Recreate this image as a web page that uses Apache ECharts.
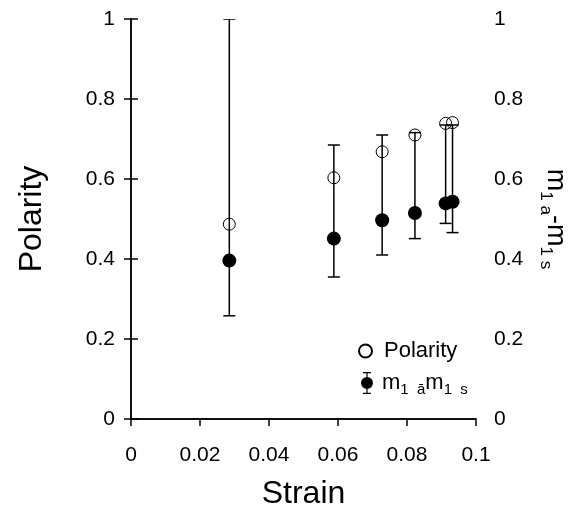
<!DOCTYPE html>
<html>
<head>
<meta charset="utf-8">
<script src="https://cdn.jsdelivr.net/npm/echarts@6/dist/echarts.min.js"></script>
<style>
  html, body { margin: 0; padding: 0; background: #fff; }
  #chart { width: 583px; height: 507px; }
</style>
</head>
<body>
<div id="chart"></div>
<script>
// strain (x) with polarity and m1a-m1s readings
var strain = [0.0285, 0.0588, 0.0728, 0.0823, 0.0912, 0.0932]
var polarity = [0.487, 0.603, 0.668, 0.710, 0.739, 0.741]
var mDiff = [0.396, 0.451, 0.497, 0.515, 0.539, 0.543]
var errLow = [0.258, 0.355, 0.410, 0.451, 0.489, 0.466]
var errHigh = [1.0, 0.685, 0.710, 0.716, 0.735, 0.735]
var xTicks = [0, 0.02, 0.04, 0.06, 0.08, 0.1]
var yTicks = [0, 0.2, 0.4, 0.6, 0.8, 1]

var font = 'Liberation Sans'
var myChart = echarts.init(document.getElementById('chart'))

var subRich = {
  t: { fontFamily: font, fontSize: 22, color: '#000', lineHeight: 28, verticalAlign: 'middle' },
  s: { fontFamily: font, fontSize: 15, color: '#000', lineHeight: 28, verticalAlign: 'bottom' }
}
var bigRich = {
  t: { fontFamily: font, fontSize: 27, color: '#000', lineHeight: 36, verticalAlign: 'middle' },
  s: { fontFamily: font, fontSize: 17, color: '#000', lineHeight: 36, verticalAlign: 'bottom' }
}

var errIcon = 'path://M5.4,0 L6.6,0 L6.6,5 L5.4,5 Z M5.4,17 L6.6,17 L6.6,22 L5.4,22 Z ' +
  'M2,0 L10,0 L10,1.2 L2,1.2 Z M2,20.8 L10,20.8 L10,22 L2,22 Z ' +
  'M0,11 A6,6 0 1,1 12,11 A6,6 0 1,1 0,11 Z'

var option = {
  animation: false,
  backgroundColor: '#fff',
  grid: { left: 131, right: 107, top: 19, bottom: 88, outerBoundsMode: 'none' },
  legend: [
    {
      left: 358, top: 340, padding: 0,
      itemWidth: 13, itemHeight: 13,
      data: [{ name: 'Polarity', icon: 'circle' }],
      textStyle: { fontFamily: font, fontSize: 22, color: '#000', padding: [0, 0, 0, 7] }
    },
    {
      left: 361, top: 372, padding: 0,
      itemWidth: 12, itemHeight: 22,
      data: [{ name: 'mdiff', icon: errIcon }],
      formatter: function () {
        return '{t|m}{s|1  ā}{t|m}{s|1  s}'
      },
      textStyle: { fontFamily: font, fontSize: 22, color: '#000', padding: [0, 0, 0, 4], rich: subRich }
    }
  ],
  xAxis: [
    {
      type: 'value', min: 0, max: 0.1, interval: 0.02,
      name: 'Strain', nameLocation: 'middle', nameGap: 59,
      nameTextStyle: { fontFamily: font, fontSize: 32, color: '#000' },
      axisLine: { show: true, lineStyle: { color: '#000', width: 1.5 } },
      axisTick: { show: true, length: 7, lineStyle: { color: '#000', width: 1.5 } },
      axisLabel: {
        margin: 26, fontFamily: font, fontSize: 21, color: '#000',
        formatter: function (v) { return xTicks.indexOf(+v.toFixed(2)) >= 0 ? String(+v.toFixed(2)) : '' }
      },
      splitLine: { show: false }
    },
    {
      type: 'value', position: 'top', min: 0, max: 0.1,
      axisLine: { show: true, lineStyle: { color: '#000', width: 1.5 } },
      axisTick: { show: false }, axisLabel: { show: false }, splitLine: { show: false }
    }
  ],
  yAxis: [
    {
      type: 'value', position: 'left', min: 0, max: 1, interval: 0.2,
      name: 'Polarity', nameLocation: 'middle', nameGap: 83, nameRotate: 90,
      nameTextStyle: { fontFamily: font, fontSize: 32, color: '#000' },
      axisLine: { show: true, lineStyle: { color: '#000', width: 1.5 } },
      axisTick: { show: true, length: 7, lineStyle: { color: '#000', width: 1.5 } },
      axisLabel: {
        margin: 16, fontFamily: font, fontSize: 21, color: '#000',
        formatter: function (v) { return yTicks.indexOf(+v.toFixed(1)) >= 0 ? String(+v.toFixed(1)) : '' }
      },
      splitLine: { show: false }
    },
    {
      type: 'value', position: 'right', min: 0, max: 1, interval: 0.2,
      name: '{t|m}{s|1 a}{t|-m}{s|1 s}', nameLocation: 'middle', nameGap: 61, nameRotate: -90,
      nameTextStyle: { fontFamily: font, fontSize: 27, color: '#000', rich: bigRich },
      axisLine: { show: true, lineStyle: { color: '#000', width: 1.5 } },
      axisTick: { show: true, length: 7, lineStyle: { color: '#000', width: 1.5 } },
      axisLabel: {
        margin: 18, fontFamily: font, fontSize: 21, color: '#000',
        formatter: function (v) { return yTicks.indexOf(+v.toFixed(1)) >= 0 ? String(+v.toFixed(1)) : '' }
      },
      splitLine: { show: false }
    }
  ],
  series: [
    {
      name: 'Polarity',
      type: 'scatter',
      symbol: 'circle',
      symbolSize: 12,
      itemStyle: { color: 'rgba(0,0,0,0)', borderColor: '#000', borderWidth: 1, opacity: 1 },
      data: strain.map(function (x, i) { return [x, polarity[i]] }),
      z: 2
    },
    {
      name: 'errbar',
      type: 'custom',
      clip: true,
      renderItem: function (params, api) {
        var x = api.value(0)
        var lo = api.coord([x, api.value(1)])
        var hi = api.coord([x, api.value(2)])
        var half = 6
        var style = { stroke: '#000', lineWidth: 1.5 }
        return {
          type: 'group',
          children: [
            { type: 'line', shape: { x1: lo[0], y1: lo[1], x2: hi[0], y2: hi[1] }, style: style },
            { type: 'line', shape: { x1: lo[0] - half, y1: lo[1], x2: lo[0] + half, y2: lo[1] }, style: style },
            { type: 'line', shape: { x1: hi[0] - half, y1: hi[1], x2: hi[0] + half, y2: hi[1] }, style: style }
          ]
        }
      },
      data: strain.map(function (x, i) { return [x, errLow[i], errHigh[i]] }),
      z: 3
    },
    {
      name: 'mdiff',
      type: 'scatter',
      symbol: 'circle',
      symbolSize: 14,
      itemStyle: { color: '#000', opacity: 1 },
      data: strain.map(function (x, i) { return [x, mDiff[i]] }),
      z: 4
    }
  ]
}

myChart.setOption(option)
</script>
</body>
</html>
